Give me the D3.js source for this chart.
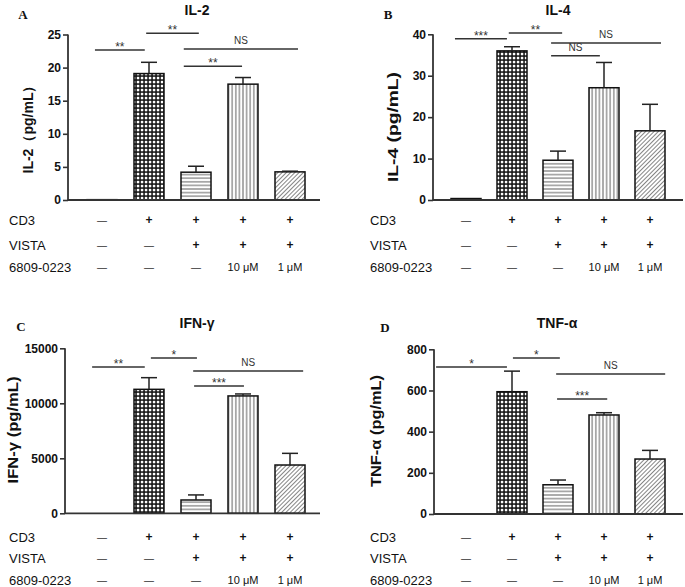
<!DOCTYPE html>
<html><head><meta charset="utf-8">
<script src="https://cdn.jsdelivr.net/npm/d3@7"></script>
<style>body{margin:0;background:#fff}svg{display:block}</style>
</head><body>
<script>
// ---------- data ----------
const groups = [0, 1, 2, 3, 4];
const cd3Row = ["\u2014", "+", "+", "+", "+"];
const vistaRow = ["\u2014", "\u2014", "+", "+", "+"];
const drugRow = ["\u2014", "\u2014", "\u2014", "10 \u03bcM", "1 \u03bcM"];
const rowNames = ["CD3", "VISTA", "6809-0223"];

const il2Mean = [0.05, 19.1, 4.2, 17.5, 4.25];
const il2Sd   = [0, 1.7, 0.9, 1.0, 0.1];
const il2Ticks = [0, 5, 10, 15, 20, 25];

const il4Mean = [0.35, 36.0, 9.6, 27.1, 16.7];
const il4Sd   = [0, 1.0, 2.2, 6.1, 6.4];
const il4Ticks = [0, 10, 20, 30, 40];

const ifnMean = [0, 11270, 1210, 10670, 4390];
const ifnSd   = [0, 1060, 460, 180, 1060];
const ifnTicks = [0, 5000, 10000, 15000];

const tnfMean = [0, 594, 142, 481, 267];
const tnfSd   = [0, 100, 23, 11, 42];
const tnfTicks = [0, 200, 400, 600, 800];

// significance brackets: [from group pos, to group pos, level (data units), label]
const il2Sig = [[-0.15, 0.91, 22.66, "**"], [0.94, 2.06, 25.2, "**"], [1.74, 4.17, 22.8, "NS"], [1.74, 2.98, 20.2, "**"]];
const il4Sig = [[-0.24, 0.89, 38.9, "***"], [0.93, 2.09, 40.3, "**"], [1.85, 4.24, 37.9, "NS"], [1.85, 2.91, 34.8, "NS"]];
const ifnSig = [[-0.21, 0.91, 13300, "**"], [1.04, 2.02, 14118, "*"], [1.94, 4.28, 12936, "NS"], [1.96, 3.02, 11573, "***"]];
const tnfSig = [[-0.65, 0.89, 714, "*"], [1.02, 2.04, 758, "*"], [1.96, 4.33, 680, "NS"], [1.98, 3.07, 558, "***"]];

// ---------- drawing ----------
const W = 685, H = 587;
const svg = d3.select("body").append("svg").attr("width", W).attr("height", H);
const defs = svg.append("defs");

// patterns
const pCheck = defs.append("pattern").attr("id", "pCheck").attr("patternUnits", "userSpaceOnUse").attr("width", 4).attr("height", 4);
pCheck.append("rect").attr("width", 4).attr("height", 4).attr("fill", "#111");
pCheck.append("rect").attr("x", 0.8).attr("y", 0.8).attr("width", 2.5).attr("height", 2.5).attr("fill", "#fff");
const pH = defs.append("pattern").attr("id", "pH").attr("patternUnits", "userSpaceOnUse").attr("width", 4).attr("height", 3.6);
pH.append("rect").attr("width", 4).attr("height", 3.6).attr("fill", "#fff");
pH.append("line").attr("x1", 0).attr("x2", 4).attr("y1", 1.8).attr("y2", 1.8).attr("stroke", "#444").attr("stroke-width", 0.9);
const pV = defs.append("pattern").attr("id", "pV").attr("patternUnits", "userSpaceOnUse").attr("width", 3.6).attr("height", 4);
pV.append("rect").attr("width", 3.6).attr("height", 4).attr("fill", "#fff");
pV.append("line").attr("y1", 0).attr("y2", 4).attr("x1", 1.8).attr("x2", 1.8).attr("stroke", "#444").attr("stroke-width", 0.9);
const pD = defs.append("pattern").attr("id", "pD").attr("patternUnits", "userSpaceOnUse").attr("width", 3).attr("height", 3).attr("patternTransform", "rotate(45)");
pD.append("rect").attr("width", 3).attr("height", 3).attr("fill", "#fff");
pD.append("line").attr("x1", 0).attr("x2", 0).attr("y1", 0).attr("y2", 3).attr("stroke", "#333").attr("stroke-width", 1.2);
const fills = ["#fff", "url(#pCheck)", "url(#pH)", "url(#pV)", "url(#pD)"];

const SANS = "Liberation Sans, Arial, Helvetica, sans-serif";

function panel(cfg) {
  const g = svg.append("g");
  const y = d3.scaleLinear().domain([0, cfg.ticks[cfg.ticks.length - 1]]).range([cfg.base, cfg.top]);
  const xpos = d3.scaleLinear().domain([0, 4]).range([cfg.c0, cfg.c0 + 4 * cfg.step]);
  const bw = 30;

  // y axis
  const ax = g.append("g").attr("transform", `translate(${cfg.axisX},0)`)
    .call(d3.axisLeft(y).tickValues(cfg.ticks).tickSize(5).tickPadding(2).tickFormat(d3.format("d")));
  ax.select(".domain").attr("stroke", "#333").attr("stroke-width", 1.8).attr("d", `M0,${cfg.base}V${cfg.top}`);
  ax.selectAll(".tick line").attr("stroke", "#333").attr("stroke-width", 1.6);
  ax.selectAll(".tick text").attr("font-family", SANS).attr("font-size", 12).attr("font-weight", "bold").attr("fill", "#111");

  // bars
  g.selectAll("rect.bar").data(groups).enter().append("rect").attr("class", "bar")
    .attr("x", i => xpos(i) - bw / 2).attr("width", bw)
    .attr("y", i => y(cfg.mean[i])).attr("height", i => y(0) - y(cfg.mean[i]))
    .attr("fill", i => fills[i]).attr("stroke", "#111").attr("stroke-width", 1.5);

  // error bars (upper only)
  groups.filter(i => cfg.sd[i] > 0).forEach(i => {
    const yt = y(cfg.mean[i] + cfg.sd[i]);
    g.append("line").attr("x1", xpos(i)).attr("x2", xpos(i)).attr("y1", y(cfg.mean[i])).attr("y2", yt)
      .attr("stroke", "#222").attr("stroke-width", 1.5);
    g.append("line").attr("x1", xpos(i) - 8).attr("x2", xpos(i) + 8).attr("y1", yt).attr("y2", yt)
      .attr("stroke", "#222").attr("stroke-width", 1.5);
  });

  // x axis line
  g.append("line").attr("x1", cfg.axisX).attr("x2", cfg.xEnd).attr("y1", cfg.base).attr("y2", cfg.base)
    .attr("stroke", "#333").attr("stroke-width", 1.8);

  // significance
  cfg.sig.forEach(s => {
    const x1 = xpos(s[0]), x2 = xpos(s[1]), yy = y(s[2]);
    g.append("line").attr("x1", x1).attr("x2", x2).attr("y1", yy).attr("y2", yy).attr("stroke", "#333").attr("stroke-width", 1.5);
    const isNS = s[3] === "NS";
    g.append("text").attr("x", (x1 + x2) / 2).attr("y", isNS ? yy - 5 : yy + 1)
      .attr("text-anchor", "middle").attr("font-family", SANS)
      .attr("font-size", isNS ? 10 : 12).attr("fill", "#333").text(s[3]);
  });

  // title & letter
  g.append("text").attr("x", cfg.titleX).attr("y", cfg.titleY).attr("text-anchor", "middle")
    .attr("font-family", SANS).attr("font-weight", "bold").attr("font-size", 14).attr("fill", "#111").text(cfg.title);
  g.append("text").attr("x", cfg.letterX).attr("y", cfg.letterY).attr("text-anchor", "middle")
    .attr("font-family", "Liberation Serif, Times New Roman, serif").attr("font-weight", "bold").attr("font-size", 13).attr("fill", "#111").text(cfg.letter);

  // y label
  g.append("text").attr("transform", `translate(${cfg.ylX},${cfg.ylY}) rotate(-90)`)
    .attr("text-anchor", "middle").attr("dominant-baseline", "central")
    .attr("font-family", SANS).attr("font-weight", "bold").attr("font-size", 14).attr("fill", "#111")
    .attr("textLength", cfg.ylLen).attr("lengthAdjust", "spacingAndGlyphs").text(cfg.ylabel);

  // condition rows
  const rows = [cd3Row, vistaRow, drugRow];
  rows.forEach((row, r) => {
    const yy = cfg.rowY[r];
    g.append("text").attr("x", cfg.rowLabelX).attr("y", yy).attr("dominant-baseline", "central")
      .attr("font-family", SANS).attr("font-size", 13).attr("fill", "#111").text(rowNames[r]);
    g.selectAll(null).data(groups).enter().append("text")
      .attr("x", i => xpos(i)).attr("y", yy).attr("dominant-baseline", "central").attr("text-anchor", "middle")
      .attr("font-family", SANS).attr("font-size", i => row[i].length > 1 ? 11 : (row[i] === "+" ? 12 : 10))
      .attr("font-weight", i => row[i] === "+" ? "bold" : "normal")
      .attr("fill", i => row[i] === "\u2014" ? "#333" : "#111").text(i => row[i]);
  });
}

panel({letter: "A", letterX: 23, letterY: 19, title: "IL-2", titleX: 197, titleY: 15,
  ylabel: "IL-2\uff08pg/mL\uff09", ylX: 28, ylY: 126, ylLen: 95,
  mean: il2Mean, sd: il2Sd, ticks: il2Ticks, axisX: 68, base: 200, top: 34.5, xEnd: 320,
  c0: 102, step: 47, sig: il2Sig, rowY: [220, 245, 267], rowLabelX: 9});
panel({letter: "B", letterX: 388, letterY: 19, title: "IL-4", titleX: 558, titleY: 15,
  ylabel: "IL-4 (pg/mL)", ylX: 393, ylY: 127, ylLen: 110,
  mean: il4Mean, sd: il4Sd, ticks: il4Ticks, axisX: 433, base: 200, top: 34.3, xEnd: 683,
  c0: 466, step: 46, sig: il4Sig, rowY: [220, 245, 267], rowLabelX: 370});
panel({letter: "C", letterX: 21, letterY: 331, title: "IFN-\u03b3", titleX: 197, titleY: 328,
  ylabel: "IFN-\u03b3 (pg/mL)", ylX: 13, ylY: 430, ylLen: 107,
  mean: ifnMean, sd: ifnSd, ticks: ifnTicks, axisX: 65, base: 513.3, top: 348.3, xEnd: 320,
  c0: 102, step: 47, sig: ifnSig, rowY: [537, 558, 580], rowLabelX: 9});
panel({letter: "D", letterX: 385, letterY: 332, title: "TNF-\u03b1", titleX: 557, titleY: 328,
  ylabel: "TNF-\u03b1 (pg/mL)", ylX: 376, ylY: 431, ylLen: 112,
  mean: tnfMean, sd: tnfSd, ticks: tnfTicks, axisX: 434, base: 514, top: 349.3, xEnd: 683,
  c0: 466, step: 46, sig: tnfSig, rowY: [537, 558, 580], rowLabelX: 370});
</script>
</body></html>
